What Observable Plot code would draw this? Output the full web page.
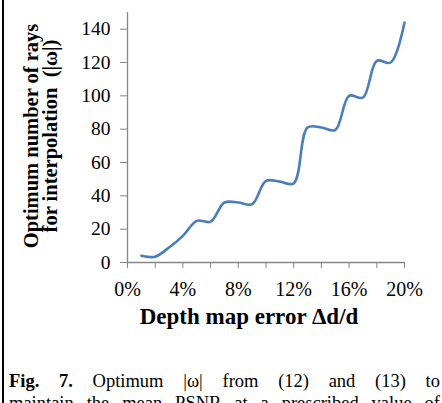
<!DOCTYPE html>
<html>
<head>
<meta charset="utf-8">
<script src="https://cdn.jsdelivr.net/npm/d3@7"></script>
<script src="https://cdn.jsdelivr.net/npm/@observablehq/plot@0.6"></script>
<style>
  html, body { margin: 0; padding: 0; background: #fff; }
  body { width: 442px; height: 403px; overflow: hidden; position: relative; font-family: "Liberation Serif", "Times New Roman", serif; }
  #border { position: absolute; left: 2px; top: 0; width: 2px; height: 403px; background: #000; }
  #chart { position: absolute; left: 0; top: 0; }
  .cap { position: absolute; left: 9px; width: 431px; font-size: 18.5px; line-height: 21px; text-align: justify; text-align-last: justify; white-space: normal; color: #000; }
</style>
</head>
<body>
<div id="border"></div>
<div id="chart"></div>
<div class="cap" id="cap1" style="top:371px;"></div>
<div class="cap" id="cap2" style="top:393px;"></div>
<script>
// ---- data ----
const depthError = [1, 2, 3, 4, 5, 6, 7, 8, 9, 10, 11, 12, 13, 14, 15, 16, 17, 18, 19, 20]; // percent
const optimumRays = [4, 3.5, 9, 16, 25, 24.5, 36, 36, 35, 49, 48.5, 47.5, 81, 81, 79.5, 100, 99, 121, 120, 144];
const xTicks = [0, 2, 4, 6, 8, 10, 12, 14, 16, 18, 20];
const xLabelTicks = [0, 4, 8, 12, 16, 20];
const yTicks = [0, 20, 40, 60, 80, 100, 120, 140];
const yTitle = "Optimum number of rays\nfor interpolation  (|ω|)";
const xTitle = "Depth map error Δd/d";
const captionBold = "Fig. 7.";
const captionLine1 = "Optimum |ω| from (12) and (13) to";
const captionLine2 = "maintain the mean PSNR at a prescribed value of";

const data = depthError.map((d, i) => ({x: d, y: optimumRays[i]}));
const grey = "#868686";

const chart = Plot.plot({
  width: 442,
  height: 340,
  marginLeft: 127,
  marginRight: 38,
  marginTop: 12,
  marginBottom: 78,
  style: {fontFamily: "'Liberation Serif', 'Times New Roman', serif", fontSize: "19px", color: "#000", background: "transparent"},
  x: {domain: [0, 20]},
  y: {domain: [0, 150]},
  marks: [
    Plot.ruleX([0], {stroke: grey, strokeWidth: 1.3}),
    Plot.ruleY([0], {stroke: grey, strokeWidth: 1.3}),
    Plot.axisY({ticks: yTicks, tickSize: 7, tickPadding: 10, stroke: grey, fill: "#000", fontSize: 19.5, label: null}),
    Plot.axisX({ticks: xTicks, tickSize: 6, tickPadding: 13.5, stroke: grey, fill: "#000", fontSize: 20, label: null,
      tickFormat: d => xLabelTicks.includes(d) ? d + "%" : ""}),
    Plot.line(data, {x: "x", y: "y", curve: "catmull-rom", stroke: "#4a7ebb", strokeWidth: 2.6}),
    Plot.text([yTitle], {frameAnchor: "left", rotate: -90, dx: -86, dy: -1.5, lineHeight: 0.95, lineAnchor: "middle",
      textAnchor: "middle", fontWeight: "bold", fontSize: 20.5, fill: "#000"}),
    Plot.text([xTitle], {frameAnchor: "bottom", dx: -17, dy: 54, lineAnchor: "middle", textAnchor: "middle",
      fontWeight: "bold", fontSize: 23, fill: "#000"})
  ]
});
document.getElementById("chart").appendChild(chart);

const c1 = document.getElementById("cap1");
const b = document.createElement("b");
b.textContent = captionBold;
c1.appendChild(b);
c1.appendChild(document.createTextNode(" " + captionLine1));
document.getElementById("cap2").textContent = captionLine2;
</script>
</body>
</html>
